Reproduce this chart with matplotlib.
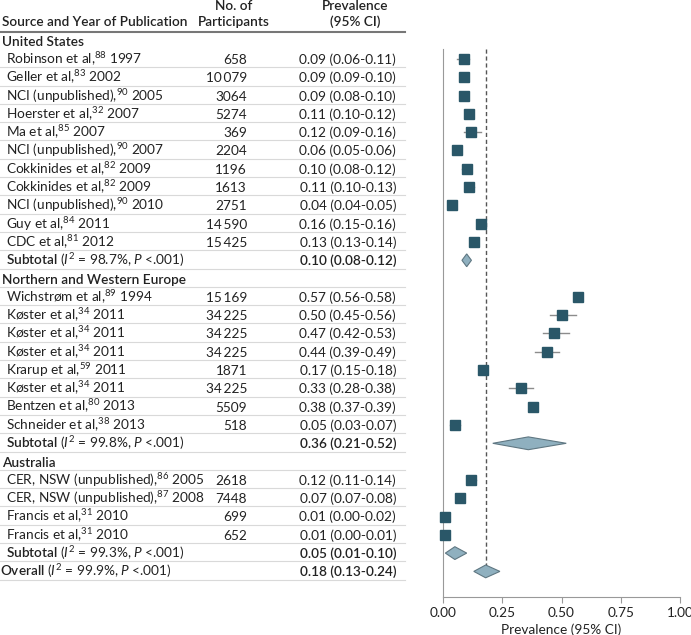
import numpy as np
import matplotlib.pyplot as plt
from matplotlib.patches import Polygon
from matplotlib.transforms import blended_transform_factory

plt.rcParams['font.family'] = ['Lato', 'DejaVu Sans']
plt.rcParams['mathtext.fontset'] = 'custom'
plt.rcParams['mathtext.rm'] = 'Lato'
plt.rcParams['mathtext.it'] = 'Lato:italic'
plt.rcParams['mathtext.bf'] = 'Lato:semibold'

# data
groups = ["United States", "Northern and Western Europe", "Australia"]

us_names = ["Robinson et al", "Geller et al", "NCI (unpublished)", "Hoerster et al",
            "Ma et al", "NCI (unpublished)", "Cokkinides et al", "Cokkinides et al",
            "NCI (unpublished)", "Guy et al", "CDC et al"]
us_refs = [88, 83, 90, 32, 85, 90, 82, 82, 90, 84, 81]
us_years = [1997, 2002, 2005, 2007, 2007, 2007, 2009, 2009, 2010, 2011, 2012]
us_n = [658, 10079, 3064, 5274, 369, 2204, 1196, 1613, 2751, 14590, 15425]
us_est = [0.09, 0.09, 0.09, 0.11, 0.12, 0.06, 0.10, 0.11, 0.04, 0.16, 0.13]
us_lo = [0.06, 0.09, 0.08, 0.10, 0.09, 0.05, 0.08, 0.10, 0.04, 0.15, 0.13]
us_hi = [0.11, 0.10, 0.10, 0.12, 0.16, 0.06, 0.12, 0.13, 0.05, 0.16, 0.14]

eu_names = ["Wichstrøm et al", "Køster et al", "Køster et al", "Køster et al",
            "Krarup et al", "Køster et al", "Bentzen et al", "Schneider et al"]
eu_refs = [89, 34, 34, 34, 59, 34, 80, 38]
eu_years = [1994, 2011, 2011, 2011, 2011, 2011, 2013, 2013]
eu_n = [15169, 34225, 34225, 34225, 1871, 34225, 5509, 518]
eu_est = [0.57, 0.50, 0.47, 0.44, 0.17, 0.33, 0.38, 0.05]
eu_lo = [0.56, 0.45, 0.42, 0.39, 0.15, 0.28, 0.37, 0.03]
eu_hi = [0.58, 0.56, 0.53, 0.49, 0.18, 0.38, 0.39, 0.07]

au_names = ["CER, NSW (unpublished)", "CER, NSW (unpublished)", "Francis et al", "Francis et al"]
au_refs = [86, 87, 31, 31]
au_years = [2005, 2008, 2010, 2010]
au_n = [2618, 7448, 699, 652]
au_est = [0.12, 0.07, 0.01, 0.01]
au_lo = [0.11, 0.07, 0.00, 0.00]
au_hi = [0.14, 0.08, 0.02, 0.01]

sub_est = [0.10, 0.36, 0.05]
sub_lo = [0.08, 0.21, 0.01]
sub_hi = [0.12, 0.52, 0.10]
sub_i2 = [98.7, 99.8, 99.3]

overall = (0.18, 0.13, 0.24)
overall_i2 = 99.9

xticks = [0, 0.25, 0.5, 0.75, 1.0]

sq_color = "#2a5768"
dia_face = "#8fb0bf"
dia_edge = "#5f7782"
txt_color = "#222222"


def fmt_n(n):
    s = str(n)
    if len(s) >= 5:
        s = s[:-3] + "\u2009" + s[-3:]
    return s


def fmt_ci(e, l, h):
    return f"{e:.2f} ({l:.2f}-{h:.2f})"


# build row list
rows = []
study_sets = [
    (us_names, us_refs, us_years, us_n, us_est, us_lo, us_hi),
    (eu_names, eu_refs, eu_years, eu_n, eu_est, eu_lo, eu_hi),
    (au_names, au_refs, au_years, au_n, au_est, au_lo, au_hi),
]
for g, (names, refs, years, ns, est, lo, hi) in enumerate(study_sets):
    rows.append(("group", groups[g], None))
    for k in range(len(names)):
        rows.append(("study", f"{names[k]},$^{{{refs[k]}}}$ {years[k]}",
                     (ns[k], est[k], lo[k], hi[k])))
    rows.append(("subtotal", r"$\mathbf{Subtotal}$ ($I^{2}$ = " + f"{sub_i2[g]}%, " + r"$P$ <.001)",
                 (None, sub_est[g], sub_lo[g], sub_hi[g])))
rows.append(("overall", r"$\mathbf{Overall}$ ($I^{2}$ = " + f"{overall_i2}%, " + r"$P$ <.001)",
             (None,) + overall))

W, H = 691, 635
fig = plt.figure(figsize=(W / 100, H / 100), dpi=100)

# row i is centred at pixel 40.7 + 18.3 * i
row0, row_h = 40.7, 18.3
y_top_px, y_bot_px = 49, 597
ylim_top = (y_top_px - row0) / row_h
ylim_bot = (y_bot_px - row0) / row_h
x0_px, x1_px = 443, 680
ax = fig.add_axes([x0_px / W, 1 - y_bot_px / H, (x1_px - x0_px) / W, (y_bot_px - y_top_px) / H])
ax.set_xlim(0, 1)
ax.set_ylim(ylim_bot, ylim_top)

tr = blended_transform_factory(fig.transFigure, ax.transData)
fs = 9.8
hw = "semibold"

# header
fig.text(2 / W, 1 - 22 / H, "Source and Year of Publication", fontsize=fs, fontweight=hw,
         color=txt_color, ha="left", va="center")
fig.text(234 / W, 1 - 6 / H, "No. of", fontsize=fs, fontweight=hw, color=txt_color,
         ha="center", va="center")
fig.text(234 / W, 1 - 22 / H, "Participants", fontsize=fs, fontweight=hw, color=txt_color,
         ha="center", va="center")
fig.text(355 / W, 1 - 6 / H, "Prevalence", fontsize=fs, fontweight=hw, color=txt_color,
         ha="center", va="center")
fig.text(355 / W, 1 - 22 / H, "(95% CI)", fontsize=fs, fontweight=hw, color=txt_color,
         ha="center", va="center")
ax.plot([0, 405 / W], [(32 - row0) / row_h] * 2, transform=tr, color="#777777", lw=1.5,
        clip_on=False)

base_off = 0.27
for i, (kind, label, vals) in enumerate(rows):
    yb = i + base_off
    if kind == "group":
        ax.text(2 / W, yb, label, transform=tr, fontsize=fs, fontweight=hw,
                color=txt_color, ha="left", va="baseline")
    elif kind == "study":
        n, e, l, h = vals
        ax.text(6 / W, yb, label, transform=tr, fontsize=fs, color=txt_color,
                ha="left", va="baseline")
        ax.text(247 / W, yb, fmt_n(n), transform=tr, fontsize=fs, color=txt_color,
                ha="right", va="baseline")
        ax.text(396 / W, yb, fmt_ci(e, l, h), transform=tr, fontsize=fs, color=txt_color,
                ha="right", va="baseline")
        ax.plot([l, h], [i, i], color="#8c8c8c", lw=1, clip_on=False, zorder=2)
        ax.plot(e, i, marker="s", ms=7.2, color=sq_color, mec=sq_color, ls="none",
                clip_on=False, zorder=3)
    else:
        _, e, l, h = vals
        xl = 6 / W if kind == "subtotal" else 0
        ax.text(xl, yb, label, transform=tr, fontsize=fs, color=txt_color,
                ha="left", va="baseline")
        ax.text(396 / W, yb, fmt_ci(e, l, h), transform=tr, fontsize=fs, fontweight=hw,
                color=txt_color, ha="right", va="baseline")
        hh = 0.35
        ax.add_patch(Polygon([(l, i), (e, i - hh), (h, i), (e, i + hh)], closed=True,
                             facecolor=dia_face, edgecolor=dia_edge, lw=0.8, zorder=3,
                             clip_on=False))
    if i > 0:
        ax.plot([0, 405 / W], [i + 0.45] * 2, transform=tr, color="#d9d9d9", lw=0.8,
                clip_on=False)

# pooled estimate reference line
ax.plot([overall[0]] * 2, [ylim_top, len(rows) - 1], color="#555555", lw=1,
        dashes=(3, 2), zorder=1)

for s in ["top", "right"]:
    ax.spines[s].set_visible(False)
ax.spines["left"].set_color("#999999")
ax.spines["bottom"].set_color("#999999")
ax.set_yticks([])
ax.set_xticks(xticks)
ax.set_xticklabels([f"{t:.2f}" for t in xticks])
ax.tick_params(axis="x", colors="#999999", labelcolor=txt_color, labelsize=fs, length=4)
ax.set_xlabel("Prevalence (95% CI)", fontsize=fs, color=txt_color, labelpad=3)

plt.savefig("out.png", dpi=100)
